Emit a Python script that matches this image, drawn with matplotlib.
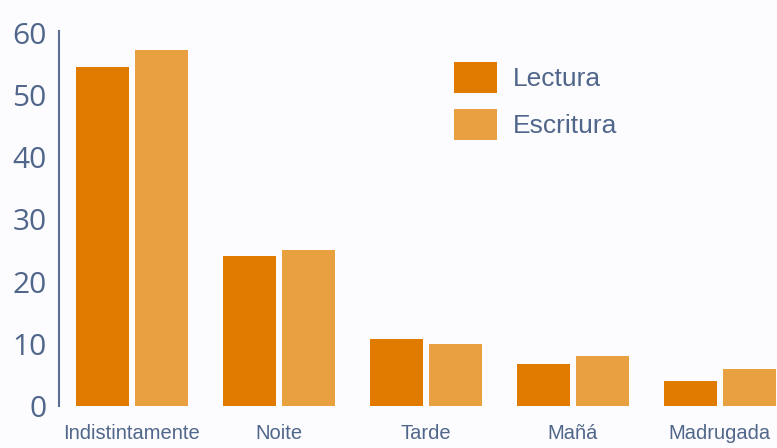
import matplotlib.pyplot as plt
import numpy as np

categories = ["Indistintamente", "Noite", "Tarde", "Mañá", "Madrugada"]
lectura = [54.5, 24.2, 10.8, 6.8, 4.1]
escritura = [57.3, 25.1, 10.0, 8.1, 6.0]
yticks = [0, 10, 20, 30, 40, 50, 60]

text_color = "#50668A"
c_lectura = "#E07B00"
c_escritura = "#E8A040"

fig = plt.figure(figsize=(7.77, 4.48), dpi=100, facecolor="#FCFCFE")
ax = fig.add_axes([59 / 777, 42 / 448, 1 - 59 / 777, (406 - 31) / 448])
ax.set_facecolor("#FCFCFE")

x = np.arange(len(categories))
width = 0.36
b1 = ax.bar(x, lectura, width, align="edge", color=c_lectura, label="Lectura")
b2 = ax.bar(x + 0.40, escritura, width, align="edge", color=c_escritura, label="Escritura")

ax.set_xlim(-0.116, 4.769)
ax.set_ylim(0, 60.3)

# Axes styling.
for s in ["top", "right", "bottom"]:
    ax.spines[s].set_visible(False)
ax.spines["left"].set_color("#5A6E92")
ax.spines["left"].set_linewidth(1.5)

ax.set_yticks(yticks)
ax.set_yticklabels([str(t) for t in yticks], fontsize=21.5, color=text_color,
                   family="Open Sans")
ax.tick_params(axis="y", length=0, pad=9)
ax.set_xticks(x + 0.38)
ax.set_xticklabels(categories, fontsize=14.5, color=text_color, family="Liberation Sans")
ax.tick_params(axis="x", length=0, pad=13)

fig.legend(handles=[b1, b2], labels=["Lectura", "Escritura"],
           loc="upper left", bbox_to_anchor=(454 / 777, 1 - 62 / 448),
           frameon=False, borderpad=0, borderaxespad=0,
           prop={"family": "Liberation Sans", "size": 19},
           labelcolor=text_color, handlelength=1.63, handleheight=1.43,
           labelspacing=0.6, handletextpad=0.6)

plt.savefig("out.png", dpi=100, facecolor=fig.get_facecolor())
